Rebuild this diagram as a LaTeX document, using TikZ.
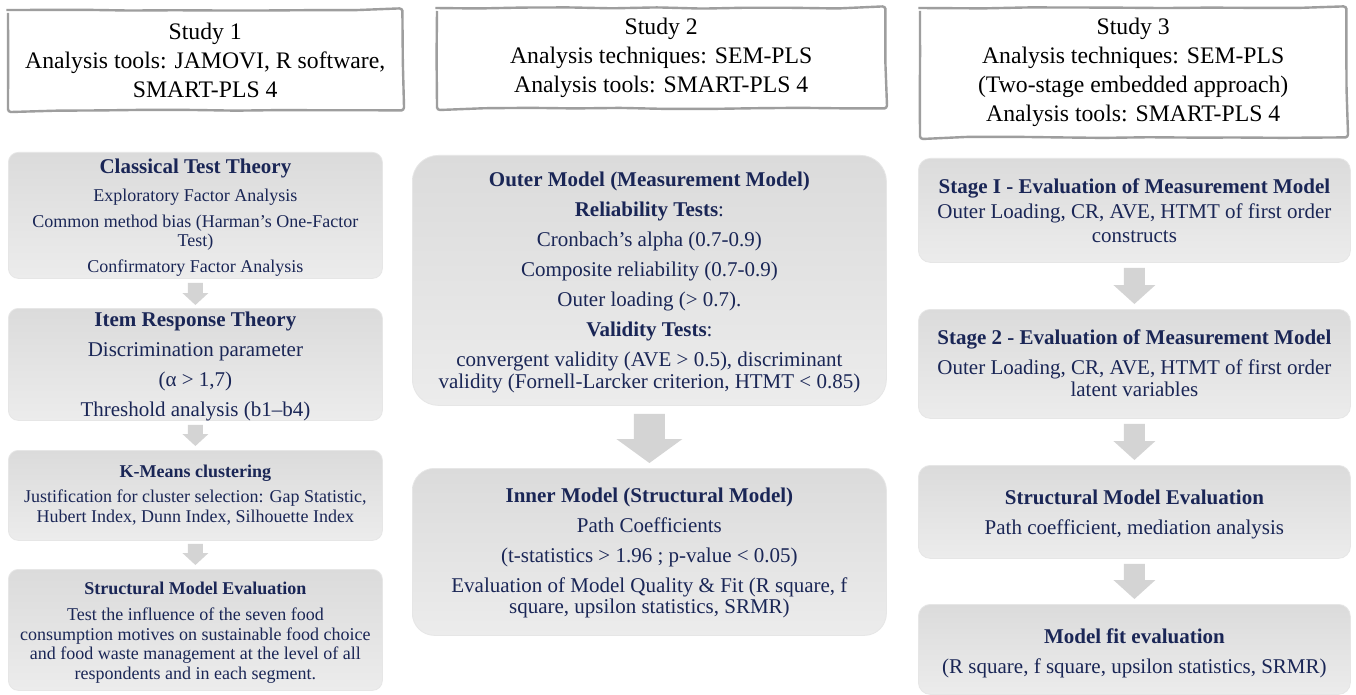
\documentclass[tikz,border=0pt]{standalone}
\usepackage{fontspec}
\setmainfont{Liberation Serif}
\usetikzlibrary{calc,decorations.pathmorphing}

\definecolor{navy}{RGB}{26,38,86}
\definecolor{boxtop}{RGB}{219,219,219}
\definecolor{boxbot}{RGB}{236,236,236}
\definecolor{boxedge}{RGB}{230,230,230}
\definecolor{arrowfill}{RGB}{212,212,212}
\definecolor{sketchgray}{RGB}{158,158,158}

% font size / baseline skip shortcut, and bold panel titles
\newcommand\fs[2]{\fontsize{#1}{#2}\selectfont}
\newcommand\ttl[2]{{\bfseries\fontsize{#1}{#1}\selectfont #2}}

% downward block arrow between two stacked panels
% #1 from, #2 to, #3 top gap, #4 bottom gap, #5 shaft half width, #6 head half width, #7 head length
\newcommand\blockarrow[7]{%
  \fill[arrowfill] let \p1=(#1.south), \p2=(#2.north) in
    (\x1-#5pt,\y1-#3pt) -- (\x1+#5pt,\y1-#3pt) -- (\x1+#5pt,\y2+#4pt+#7pt)
    -- (\x1+#6pt,\y2+#4pt+#7pt) -- (\x1,\y2+#4pt) -- (\x1-#6pt,\y2+#4pt+#7pt)
    -- (\x1-#5pt,\y2+#4pt+#7pt) -- cycle;}

\tikzset{
  panel/.style={rounded corners=10pt, top color=boxtop, bottom color=boxbot,
    draw=boxedge, line width=0.8pt, inner sep=0pt, anchor=north west},
  ptext/.style={text=navy, align=center, inner sep=0pt},
  header/.style={align=center, inner sep=0pt, anchor=north west,
    font=\fs{23.7}{29}},
  sketch/.style={draw=sketchgray, line width=2.4pt, decorate,
    decoration={random steps, segment length=45pt, amplitude=0.6pt},
    rounded corners=3pt},
}

\begin{document}
\begin{tikzpicture}[x=1pt,y=-1pt]
\pgfmathsetseed{7}
\fill[white] (0,0) rectangle (1356,695);
\useasboundingbox (0,0) rectangle (1356,695);

% ---------- headers ----------
\node[header, minimum width=394pt, minimum height=100pt] (h1) at (8,10)
  {Study 1\\Analysis tools: JAMOVI, R software,\\SMART-PLS 4};
\node[header, minimum width=448pt, minimum height=100pt] (h2) at (437,8)
  {Study 2\\Analysis techniques: SEM-PLS\\Analysis tools: SMART-PLS 4};
\node[header, minimum width=426pt, minimum height=129pt] (h3) at (920,8)
  {Study 3\\Analysis techniques: SEM-PLS\\(Two-stage embedded approach)\\Analysis tools: SMART-PLS 4};
\foreach \h in {h1,h2,h3}
  \draw[sketch] (\h.north west) rectangle (\h.south east);

% ---------- study 1 ----------
\node[panel, minimum width=374pt, minimum height=126pt] (c1) at (8,152) {};
\node[ptext, font=\fs{18}{19.5}] (c1t) at ([yshift=-2.5pt]c1.center)
  {\ttl{21}{Classical Test Theory}\\[8.5pt]
   Exploratory Factor Analysis\\[6.5pt]
   Common method bias (Harman’s One-Factor\\
   Test)\\[6.5pt]
   Confirmatory Factor Analysis};
\node[panel, minimum width=374pt, minimum height=112pt] (c2) at (8,308) {};
\node[ptext, font=\fs{21}{22}] (c2t) at ([yshift=-2pt]c2.center)
  {\ttl{21}{Item Response Theory}\\[8pt]
   Discrimination parameter\\[8pt]
   (α > 1,7)\\[8pt]
   Threshold analysis (b1–b4)};
\node[panel, minimum width=374pt, minimum height=90pt] (c3) at (8,450) {};
\node[ptext, font=\fs{18}{20}] (c3t) at (c3.center)
  {\ttl{18}{K-Means clustering}\\[5pt]
   Justification for cluster selection: Gap Statistic,\\
   Hubert Index, Dunn Index, Silhouette Index};
\node[panel, minimum width=374pt, minimum height=121pt] (c4) at (8,569) {};
\node[ptext, font=\fs{18}{19.5}] (c4t) at ([yshift=-3pt]c4.center)
  {\ttl{18}{Structural Model Evaluation}\\[6.5pt]
   Test the influence of the seven food\\
   consumption motives on sustainable food choice\\
   and food waste management at the level of all\\
   respondents and in each segment.};

\blockarrow{c1}{c2}{4}{3}{7.5}{13}{12}
\blockarrow{c2}{c3}{4}{4}{7.5}{13}{12}
\blockarrow{c3}{c4}{3}{4}{7.5}{13}{12}

% ---------- study 2 ----------
\node[panel, rounded corners=26pt, minimum width=474pt, minimum height=250pt] (m1) at (412,155) {};
\node[ptext, font=\fs{21}{22}] (m1t) at ([yshift=-2.5pt]m1.center)
  {\ttl{21}{Outer Model (Measurement Model)}\\[8pt]
   \textbf{Reliability Tests}:\\[8pt]
   Cronbach’s alpha (0.7-0.9)\\[8pt]
   Composite reliability (0.7-0.9)\\[8pt]
   Outer loading (> 0.7).\\[8pt]
   \textbf{Validity Tests}:\\[8pt]
   convergent validity (AVE > 0.5), discriminant\\
   validity (Fornell-Larcker criterion, HTMT < 0.85)};
\node[panel, rounded corners=22pt, minimum width=474pt, minimum height=167pt] (m2) at (412,468) {};
\node[ptext, font=\fs{21}{21.5}] (m2t) at ([yshift=-1pt]m2.center)
  {\ttl{21}{Inner Model (Structural Model)}\\[8.5pt]
   Path Coefficients\\[8.5pt]
   (t-statistics > 1.96 ; p-value < 0.05)\\[8.5pt]
   Evaluation of Model Quality \& Fit (R square, f\\
   square, upsilon statistics, SRMR)};

\blockarrow{m1}{m2}{8}{5}{15.5}{33}{24}

% ---------- study 3 ----------
\node[panel, rounded corners=12pt, minimum width=432pt, minimum height=104pt] (s1) at (918,158) {};
\node[ptext, font=\fs{21}{24}] (s1t) at (s1.center)
  {\ttl{21}{Stage I - Evaluation of Measurement Model}\\[1pt]
   Outer Loading, CR, AVE, HTMT of first order\\
   constructs};
\node[panel, rounded corners=12pt, minimum width=432pt, minimum height=109pt] (s2) at (918,309) {};
\node[ptext, font=\fs{21}{22}] (s2t) at ([yshift=1pt]s2.center)
  {\ttl{21}{Stage 2 - Evaluation of Measurement Model}\\[8pt]
   Outer Loading, CR, AVE, HTMT of first order\\
   latent variables};
\node[panel, rounded corners=12pt, minimum width=432pt, minimum height=93pt] (s3) at (918,465) {};
\node[ptext, font=\fs{21}{22}] (s3t) at ([yshift=-3pt]s3.center)
  {\ttl{21}{Structural Model Evaluation}\\[8pt]
   Path coefficient, mediation analysis};
\node[panel, rounded corners=12pt, minimum width=432pt, minimum height=90pt] (s4) at (918,604) {};
\node[ptext, font=\fs{21}{22}] (s4t) at ([yshift=-4pt]s4.center)
  {\ttl{21}{Model fit evaluation}\\[8pt]
   (R square, f square, upsilon statistics, SRMR)};

\blockarrow{s1}{s2}{5}{5}{10.5}{21}{19}
\blockarrow{s2}{s3}{5}{5}{10.5}{21}{19}
\blockarrow{s3}{s4}{5}{5}{10.5}{21}{19}
\end{tikzpicture}
\end{document}
